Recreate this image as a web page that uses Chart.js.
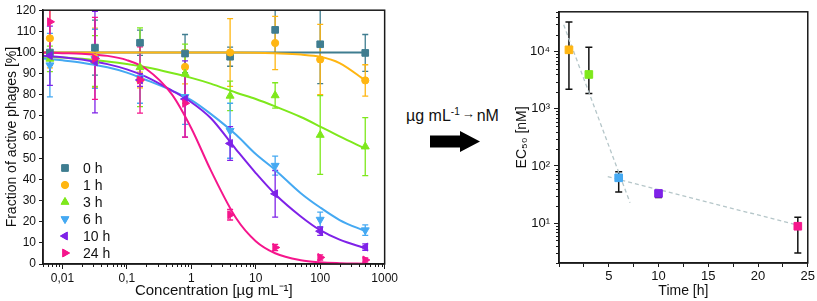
<!DOCTYPE html>
<html>
<head>
<meta charset="utf-8">
<script src="https://cdn.jsdelivr.net/npm/chart.js@4.4.0/dist/chart.umd.min.js"></script>
<style>
  body { margin: 0; background: #fff; width: 817px; height: 301px; overflow: hidden; position: relative;
         font-family: "Liberation Sans", Arial, sans-serif; color: #111; }
  #leftBox { position: absolute; left: 0; top: 0; width: 400px; height: 301px; }
  #rightBox { position: absolute; left: 500px; top: 0; width: 317px; height: 301px; }
  #convText { position: absolute; left: 406px; top: 106px; font-size: 16px; white-space: nowrap; }
  #convText sup { font-size: 10px; vertical-align: 6px; }
  #convText .arr { font-size: 13px; position: relative; top: -3px; margin: 0 2px; }
  #arrow { position: absolute; left: 428px; top: 129px; }
</style>
</head>
<body>
<div id="leftBox"><canvas id="phageChart"></canvas></div>
<div id="convText">µg mL<sup>-1</sup><span class="arr">→</span>nM</div>
<svg id="arrow" width="54" height="26"><polygon points="2,6.5 32,6.5 32,2 52,12.5 32,23 32,18.5 2,18.5" fill="#000"/></svg>
<div id="rightBox"><canvas id="ecChart"></canvas></div>

<script>
// left panel: fraction of active phages vs concentration
const concentrations = [0.0064, 0.032, 0.16, 0.8, 4, 20, 100, 500];
const concTicks = [0.01, 0.1, 1, 10, 100, 1000];
const seriesLabels = ['0 h', '1 h', '3 h', '6 h', '10 h', '24 h'];

const active0h  = [100, 102.3, 104.6, 99.5, 98, 110.7, 103.9, 99.8];
const sd0h      = [6, 13, 6, 9, 4.5, 11, 18.6, 8.7];
const active1h  = [106.7, 97.5, 87, 93.2, 100, 104.5, 96.7, 86.8];
const sd1h      = [14, 14, 3.7, 8, 16, 12.6, 16.6, 7.4];
const active3h  = [97, 96, 93, 90, 79.5, 79.7, 61, 55.5];
const sd3h      = [6, 12, 18.6, 14, 7, 6, 18.6, 13.7];
const active6h  = [94, 97, 88, 79, 63, 46.5, 21, 16];
const sd6h      = [15, 14, 12, 13, 13, 4.5, 3.5, 2.5];
const active10h = [98.5, 95.5, 87, 78, 57, 33.2, 15.5, 8];
const sd10h     = [14, 24, 3, 18, 8, 11, 2, 1.5];
const active24h = [114.5, 97.2, 87, 76, 23.3, 7.8, 3.1, 1.9];
const sd24h     = [15, 19.4, 15.7, 16, 2.5, 1.5, 1.2, 1];

// fitted curves
const fitConc = [0.005, 0.01, 0.02, 0.05, 0.1, 0.2, 0.5, 1, 2, 5, 10, 20, 50, 100, 200, 500];
const fit0h  = [100, 100, 100, 100, 100, 100, 100, 100, 100, 100, 100, 100, 100, 100, 100, 100];
const fit1h  = [100, 100, 100, 100, 100, 100, 100, 100, 100, 100, 99.9, 99.6, 99, 98, 95, 86.8];
const fit3h  = [98.0, 97.6, 97.0, 95.8, 94.6, 93.0, 90.3, 88.0, 85.3, 81.0, 78.0, 74.5, 69.5, 65.0, 60.3, 54.6];
const fit6h  = [97.2, 96.3, 95.2, 93.0, 90.5, 87.0, 82.0, 77.5, 71.0, 61.0, 52.0, 44.5, 33.5, 26.7, 20.8, 15.5];
const fit10h = [98.5, 97.8, 96.7, 94.5, 92.0, 88.5, 82.0, 76.5, 69.0, 54.0, 43.0, 33.0, 22.5, 16.0, 11.5, 7.5];
const fit24h = [100, 99.7, 99.4, 98.4, 96.4, 92.2, 80.2, 64.2, 44.4, 21.5, 10.8, 5.1, 1.8, 0.8, 0.4, 0.15];

// right panel: EC50 vs time
const timeHours = [1, 3, 6, 10, 24];
const ec50nM   = [10800, 4000, 62, 33, 8.8];
const ec50Low  = [2200, 1850, 35, 28, 3];
const ec50High = [33000, 12000, 79, 37, 12.6];
const ecTicks  = [10, 100, 1000, 10000];
const fitEarlyTime = [0.47, 7.14];
const fitEarlyEC   = [29600, 22.7];
const fitLateTime  = [4.9, 24.1];
const fitLateEC    = [65, 9.1];

const colors = ['#3f7d90', '#ffb612', '#7ee81c', '#45a9f2', '#7f22e8', '#f5168c'];
const markers = ['rect', 'circle', 'triangle', 'triangle', 'triangle', 'triangle'];
const markerRot = [0, 0, 0, 180, -90, 90];
const markerSize = [4.7, 3.6, 4.6, 4.6, 4.6, 4.6];

const allActive = [active0h, active1h, active3h, active6h, active10h, active24h];
const allSd = [sd0h, sd1h, sd3h, sd6h, sd10h, sd24h];
const allFit = [fit0h, fit1h, fit3h, fit6h, fit10h, fit24h];

Chart.defaults.font.family = '"Liberation Sans", Arial, sans-serif';
Chart.defaults.color = '#111';

const axisColor = '#1a1a1a';

function drawMarker(ctx, style, r, rot, x, y) {
  if (Chart.helpers && Chart.helpers.drawPoint) {
    Chart.helpers.drawPoint(ctx, {pointStyle: style, radius: r, rotation: rot, borderWidth: 1}, x, y);
    ctx.fill();
  }
}

const errorBars = {
  id: 'errorBars',
  beforeDatasetsDraw(chart) {
    const {ctx, chartArea, scales} = chart;
    ctx.save();
    ctx.beginPath();
    ctx.rect(chartArea.left, chartArea.top, chartArea.right - chartArea.left, chartArea.bottom - chartArea.top);
    ctx.clip();
    chart.data.datasets.forEach(ds => {
      if (!ds.errorBars) return;
      ds.errorBars.forEach((e, k) => {
        const x = scales.x.getPixelForValue(ds.data[k].x);
        const y1 = scales.y.getPixelForValue(e[0]);
        const y2 = scales.y.getPixelForValue(e[1]);
        const cap = ds.capHalf;
        ctx.strokeStyle = ds.errorColor;
        ctx.lineWidth = ds.errorWidth;
        ctx.beginPath();
        ctx.moveTo(x, y1); ctx.lineTo(x, y2);
        ctx.moveTo(x - cap, y1); ctx.lineTo(x + cap, y1);
        ctx.moveTo(x - cap, y2); ctx.lineTo(x + cap, y2);
        ctx.stroke();
      });
    });
    ctx.restore();
  }
};

const frame = {
  id: 'frame',
  afterDraw(chart) {
    const {ctx, chartArea: a} = chart;
    ctx.save();
    ctx.strokeStyle = axisColor;
    ctx.lineWidth = 1.5;
    ctx.strokeRect(a.left, a.top, a.right - a.left, a.bottom - a.top);
    ctx.restore();
  }
};

// minor ticks on log axes
function minorLogTicks(scale, ctx, horizontal, len) {
  ctx.save();
  ctx.strokeStyle = axisColor;
  ctx.lineWidth = 1;
  ctx.beginPath();
  for (let d = -3; d <= 4; d++) {
    for (let m = 2; m <= 9; m++) {
      const v = m * Math.pow(10, d);
      if (v < scale.min || v > scale.max) continue;
      const p = Math.round(scale.getPixelForValue(v)) + 0.5;
      if (horizontal) { ctx.moveTo(p, scale.top); ctx.lineTo(p, scale.top + len); }
      else { ctx.moveTo(scale.right, p); ctx.lineTo(scale.right - len, p); }
    }
  }
  ctx.stroke();
  ctx.restore();
}

const phageLegend = {
  id: 'phageLegend',
  afterDraw(chart) {
    const ctx = chart.ctx;
    minorLogTicks(chart.scales.x, ctx, true, 3);
    ctx.save();
    ctx.font = '14px "Liberation Sans", Arial, sans-serif';
    ctx.textBaseline = 'middle';
    seriesLabels.forEach((lab, i) => {
      const y = 168 + 17 * i;
      ctx.fillStyle = colors[i];
      ctx.strokeStyle = colors[i];
      drawMarker(ctx, markers[i], markerSize[i], markerRot[i], 65, y);
      ctx.fillStyle = '#111';
      ctx.fillText(lab, 83, y + 1);
    });
    ctx.restore();
  }
};

const phageDatasets = [];
allFit.forEach((fit, i) => {
  phageDatasets.push({
    label: seriesLabels[i] + ' fit',
    data: fitConc.map((c, k) => ({x: c, y: fit[k]})),
    showLine: true,
    borderColor: colors[i],
    borderWidth: 2,
    pointRadius: 0,
    cubicInterpolationMode: 'monotone',
    order: 20 - i
  });
});
allActive.forEach((vals, i) => {
  phageDatasets.push({
    label: seriesLabels[i],
    data: concentrations.map((c, k) => ({x: c, y: vals[k]})),
    showLine: false,
    pointStyle: markers[i],
    pointRotation: markerRot[i],
    pointRadius: markerSize[i],
    backgroundColor: colors[i],
    borderColor: colors[i],
    borderWidth: 1,
    errorBars: vals.map((v, k) => [v - allSd[i][k], v + allSd[i][k]]),
    errorColor: colors[i],
    errorWidth: 1.3,
    capHalf: 3,
    order: 10 - i
  });
});

new Chart(document.getElementById('phageChart'), {
  type: 'scatter',
  data: {datasets: phageDatasets},
  plugins: [errorBars, frame, phageLegend],
  options: {
    responsive: true,
    maintainAspectRatio: false,
    animation: false,
    layout: {padding: {top: 6, right: 7, left: 0, bottom: 0}},
    plugins: {legend: {display: false}, tooltip: {enabled: false}},
    scales: {
      x: {
        type: 'logarithmic',
        min: 0.005,
        max: 1000,
        afterBuildTicks: s => { s.ticks = concTicks.map(v => ({value: v})); },
        afterFit: s => { s.height = 37; },
        ticks: {
          font: {size: 12},
          padding: 2,
          maxRotation: 0,
          autoSkip: false,
          callback: v => String(v).replace('.', ',')
        },
        grid: {drawOnChartArea: false, tickLength: 5, color: axisColor, tickWidth: 1},
        border: {display: true, color: axisColor, width: 1.5},
        title: {display: true, text: 'Concentration [µg mL⁻¹]', font: {size: 15}, padding: {top: 0, bottom: 1}}
      },
      y: {
        min: 0,
        max: 120,
        afterFit: s => { s.width = 43; },
        ticks: {stepSize: 10, font: {size: 12}, padding: 3},
        grid: {drawOnChartArea: false, tickLength: 4, color: axisColor},
        border: {display: true, color: axisColor, width: 1.5},
        title: {display: true, text: 'Fraction of active phages [%]', font: {size: 14}, padding: {top: 4, bottom: 0}}
      }
    }
  }
});

// EC50 panel
const supDigits = {'0': '⁰', '1': '¹', '2': '²', '3': '³', '4': '⁴', '5': '⁵'};

const ecMinor = {
  id: 'ecMinor',
  afterDraw(chart) {
    minorLogTicks(chart.scales.y, chart.ctx, false, 3);
  }
};

new Chart(document.getElementById('ecChart'), {
  type: 'scatter',
  data: {
    datasets: [
      {
        label: 'EC50',
        data: timeHours.map((t, k) => ({x: t, y: ec50nM[k]})),
        showLine: false,
        pointStyle: 'rect',
        pointRadius: 5.4,
        backgroundColor: colors.slice(1),
        borderColor: colors.slice(1),
        borderWidth: 1,
        errorBars: timeHours.map((t, k) => [ec50Low[k], ec50High[k]]),
        errorColor: '#111',
        errorWidth: 1.5,
        capHalf: 3.5,
        order: 0
      },
      {
        label: 'early fit',
        data: fitEarlyTime.map((t, k) => ({x: t, y: fitEarlyEC[k]})),
        showLine: true,
        borderColor: '#b5c6c9',
        borderWidth: 1.3,
        borderDash: [4, 3],
        pointRadius: 0,
        order: 5
      },
      {
        label: 'late fit',
        data: fitLateTime.map((t, k) => ({x: t, y: fitLateEC[k]})),
        showLine: true,
        borderColor: '#b5c6c9',
        borderWidth: 1.3,
        borderDash: [4, 3],
        pointRadius: 0,
        order: 5
      }
    ]
  },
  plugins: [errorBars, frame, ecMinor],
  options: {
    responsive: true,
    maintainAspectRatio: false,
    animation: false,
    layout: {padding: {top: 6, right: 8, left: 0, bottom: 0}},
    plugins: {legend: {display: false}, tooltip: {enabled: false}},
    scales: {
      x: {
        min: 0,
        max: 25,
        afterFit: s => { s.height = 38; },
        ticks: {
          stepSize: 2.5,
          autoSkip: false,
          maxRotation: 0,
          font: {size: 13},
          padding: 2,
          callback: v => (v > 0 && v % 5 === 0) ? String(v) : ''
        },
        grid: {drawOnChartArea: false, tickLength: 4, color: axisColor},
        border: {display: true, color: axisColor, width: 1.5},
        title: {display: true, text: 'Time [h]', font: {size: 14}, padding: {top: 0, bottom: 1}}
      },
      y: {
        type: 'logarithmic',
        min: 2,
        max: 50000,
        afterBuildTicks: s => { s.ticks = ecTicks.map(v => ({value: v})); },
        afterFit: s => { s.width = 59; },
        ticks: {
          font: {size: 13},
          padding: 4,
          callback: v => '10' + supDigits[String(Math.round(Math.log10(v)))]
        },
        grid: {drawOnChartArea: false, tickLength: 5, color: axisColor},
        border: {display: true, color: axisColor, width: 1.5},
        title: {display: true, text: 'EC₅₀ [nM]', font: {size: 14}, padding: {top: 14, bottom: 0}}
      }
    }
  }
});
</script>
</body>
</html>
